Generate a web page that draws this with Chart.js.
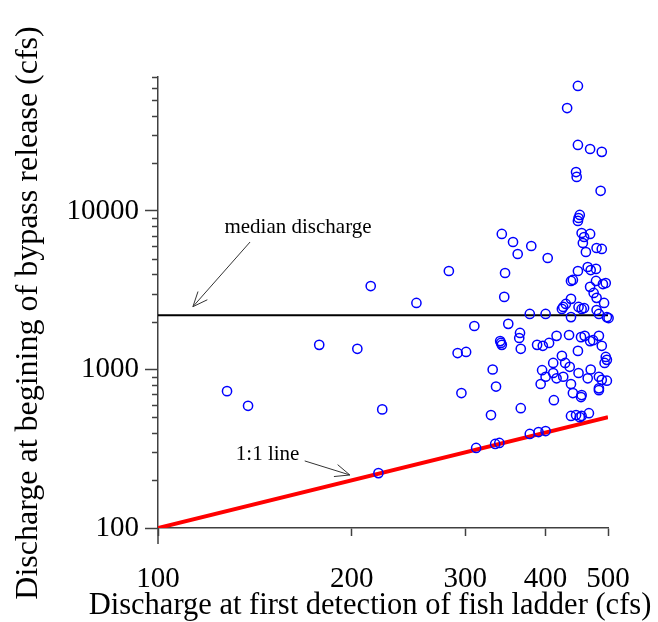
<!DOCTYPE html>
<html>
<head>
<meta charset="utf-8">
<script src="https://cdn.jsdelivr.net/npm/chart.js@4.4.0/dist/chart.umd.min.js"></script>
<style>
  html, body { margin: 0; padding: 0; background: #fff; }
  #wrap { width: 658px; height: 622px; }
</style>
</head>
<body>
<div id="wrap"><canvas id="chart" width="658" height="622"></canvas></div>
<script>
// discharge at first detection in the fish ladder (x) vs discharge when bypass release began (y), cfs
const ladderQ = [
    128, 138, 178, 204, 214, 223, 220, 252, 283, 310,
    292, 301, 296, 312, 329, 331, 335, 334, 339, 340,
    341, 342, 342, 346, 345, 350, 356, 362, 365, 364,
    366, 366, 378, 390, 400, 380, 378, 400, 388, 396,
    405, 403, 395, 400, 393, 411, 416, 426, 411, 412,
    416, 435, 424, 429, 436, 430, 426, 424, 432, 438,
    441, 438, 438, 438, 441, 438, 446, 452, 455, 467,
    446, 447, 449, 449, 452, 450, 449, 449, 450, 459,
    455, 449, 450, 454, 460, 455, 454, 455, 459, 469,
    457, 462, 465, 470, 479, 469, 469, 469, 474, 470,
    465, 475, 480, 479, 480, 489, 480, 484, 484, 484,
    484, 484, 487, 489, 489, 491, 496, 493, 498, 501,
    496, 498, 494, 498, 489
];
const bypassQ = [
    730, 590, 1430, 1350, 3360, 560, 222, 2630, 4180, 1880,
    1270, 1290, 710, 320, 516, 1000, 780, 339, 344, 1510,
    1470, 1430, 7160, 4060, 2870, 1940, 6370, 5350, 1700, 1580,
    1350, 570, 392, 403, 409, 6010, 2240, 2240, 1430, 1410,
    1470, 5050, 990, 900, 810, 950, 880, 900, 1100, 640,
    1630, 1650, 1220, 1100, 1040, 2590, 2480, 2410, 44600, 3620,
    3670, 2790, 2140, 810, 710, 509, 516, 500, 509, 530,
    17600, 16400, 61500, 26100, 9440, 9030, 8650, 4180, 2480, 2440,
    2410, 1310, 950, 1600, 1630, 690, 670, 7260, 6850, 7160,
    6280, 5510, 4430, 4240, 4310, 24600, 3320, 1510, 1530, 1000,
    880, 3040, 2830, 3620, 5840, 5760, 2370, 2240, 1630, 900,
    760, 740, 13400, 23600, 1410, 3460, 3510, 2630, 2140, 2110,
    1200, 1150, 1100, 850, 860
];

const medianQ = 2200;          // median discharge line
const lineEnds = [100, 500];   // 1:1 line and median line run over this x range

const xTicks = [100, 200, 300, 400, 500];
const yMajorTicks = [100, 1000, 10000];
const yMinorTicks = [
    200, 300, 400, 500, 600, 700, 800, 900,
    2000, 3000, 4000, 5000, 6000, 7000, 8000, 9000,
    20000, 30000, 40000, 50000, 60000, 70000
];

const xTitle = "Discharge at first detection of fish ladder (cfs)";
const yTitle = "Discharge at begining of bypass release (cfs)";

const serif = "'Liberation Serif', 'Times New Roman', serif";

// open arrow head drawn with two short strokes
function drawArrow(ctx, x0, y0, x1, y1) {
    const ang = Math.atan2(y1 - y0, x1 - x0);
    const len = 16, spread = 0.4;
    ctx.beginPath();
    ctx.moveTo(x0, y0);
    ctx.lineTo(x1, y1);
    ctx.moveTo(x1 - len * Math.cos(ang - spread), y1 - len * Math.sin(ang - spread));
    ctx.lineTo(x1, y1);
    ctx.lineTo(x1 - len * Math.cos(ang + spread), y1 - len * Math.sin(ang + spread));
    ctx.stroke();
}

// minor ticks on y, the axis stub below the origin, axis titles and the two labelled arrows
const extrasPlugin = {
    id: "extras",
    afterDraw(chart) {
        const ctx = chart.ctx;
        const xs = chart.scales.x;
        const ys = chart.scales.y;
        const area = chart.chartArea;
        ctx.save();
        ctx.strokeStyle = "#404040";
        ctx.lineWidth = 1.5;
        ctx.beginPath();
        yMinorTicks.forEach((v) => {
            const py = Math.round(ys.getPixelForValue(v)) + 0.5;
            ctx.moveTo(area.left - 6, py);
            ctx.lineTo(area.left, py);
        });
        ctx.moveTo(area.left, area.bottom);
        ctx.lineTo(area.left, area.bottom + 16);
        ctx.stroke();

        // titles are wider than the plot, so they are drawn here (scale titles would squeeze them)
        ctx.fillStyle = "#000";
        ctx.textAlign = "center";
        ctx.textBaseline = "middle";
        ctx.font = "30.5px " + serif;
        ctx.fillText(xTitle, area.left + 212, area.bottom + 78);

        ctx.save();
        ctx.translate(area.left - 129, area.top + 236);
        ctx.rotate(-Math.PI / 2);
        ctx.font = "32px " + serif;
        ctx.fillText(yTitle, 0, 0);
        ctx.restore();

        // NOTE: annotation anchors are given in data units so they follow the scales
        const px = (v) => xs.getPixelForValue(v);
        const py = (v) => ys.getPixelForValue(v);
        ctx.font = "21px " + serif;
        ctx.fillText("median discharge", px(165), py(7810));
        ctx.fillText("1:1 line", px(148), py(289));

        ctx.strokeStyle = "#333";
        ctx.lineWidth = 1;
        drawArrow(ctx, px(139), py(6370), px(113.3), py(2490));
        drawArrow(ctx, px(169), py(265), px(198.6), py(216));
        ctx.restore();
    },
};

const points = ladderQ.map((x, i) => ({x: x, y: bypassQ[i]}));

new Chart(document.getElementById("chart"), {
    type: "scatter",
    data: {
        datasets: [
            {
                label: "fish",
                data: points,
                borderColor: "#0000ff",
                backgroundColor: "rgba(0,0,0,0)",
                pointRadius: 4.6,
                pointBorderWidth: 1.5,
                clip: false,
            },
            {
                label: "median",
                type: "line",
                data: lineEnds.map((x) => ({x: x, y: medianQ})),
                borderColor: "#000",
                borderWidth: 2,
                pointRadius: 0,
            },
            {
                label: "1:1",
                type: "line",
                data: lineEnds.map((x) => ({x: x, y: x})),
                borderColor: "#ff0000",
                borderWidth: 4,
                pointRadius: 0,
            },
        ],
    },
    options: {
        responsive: false,
        animation: false,
        devicePixelRatio: 1,
        layout: {padding: {left: 0, right: 50, top: 77, bottom: 0}},
        plugins: {
            legend: {display: false},
            tooltip: {enabled: false},
        },
        scales: {
            x: {
                type: "logarithmic",
                min: 100,
                max: 500,
                afterFit: (s) => { s.height = 94; },
                afterBuildTicks: (s) => { s.ticks = xTicks.map((v) => ({value: v})); },
                grid: {drawOnChartArea: false, tickLength: 8, tickColor: "#404040", tickWidth: 1.5},
                border: {color: "#404040", width: 1.5},
                ticks: {
                    autoSkip: false,
                    maxRotation: 0,
                    padding: 26,
                    color: "#000",
                    font: {family: serif, size: 29},
                    callback: (v) => String(v),
                },
            },
            y: {
                type: "logarithmic",
                min: 100,
                max: 70000,
                afterFit: (s) => { s.width = 158; },
                afterBuildTicks: (s) => { s.ticks = yMajorTicks.map((v) => ({value: v})); },
                grid: {drawOnChartArea: false, tickLength: 13, tickColor: "#404040", tickWidth: 1.5},
                border: {color: "#404040", width: 1.5},
                ticks: {
                    padding: 6,
                    color: "#000",
                    font: {family: serif, size: 29},
                    callback: (v) => String(v),
                },
            },
        },
    },
    plugins: [extrasPlugin],
});
</script>
</body>
</html>
